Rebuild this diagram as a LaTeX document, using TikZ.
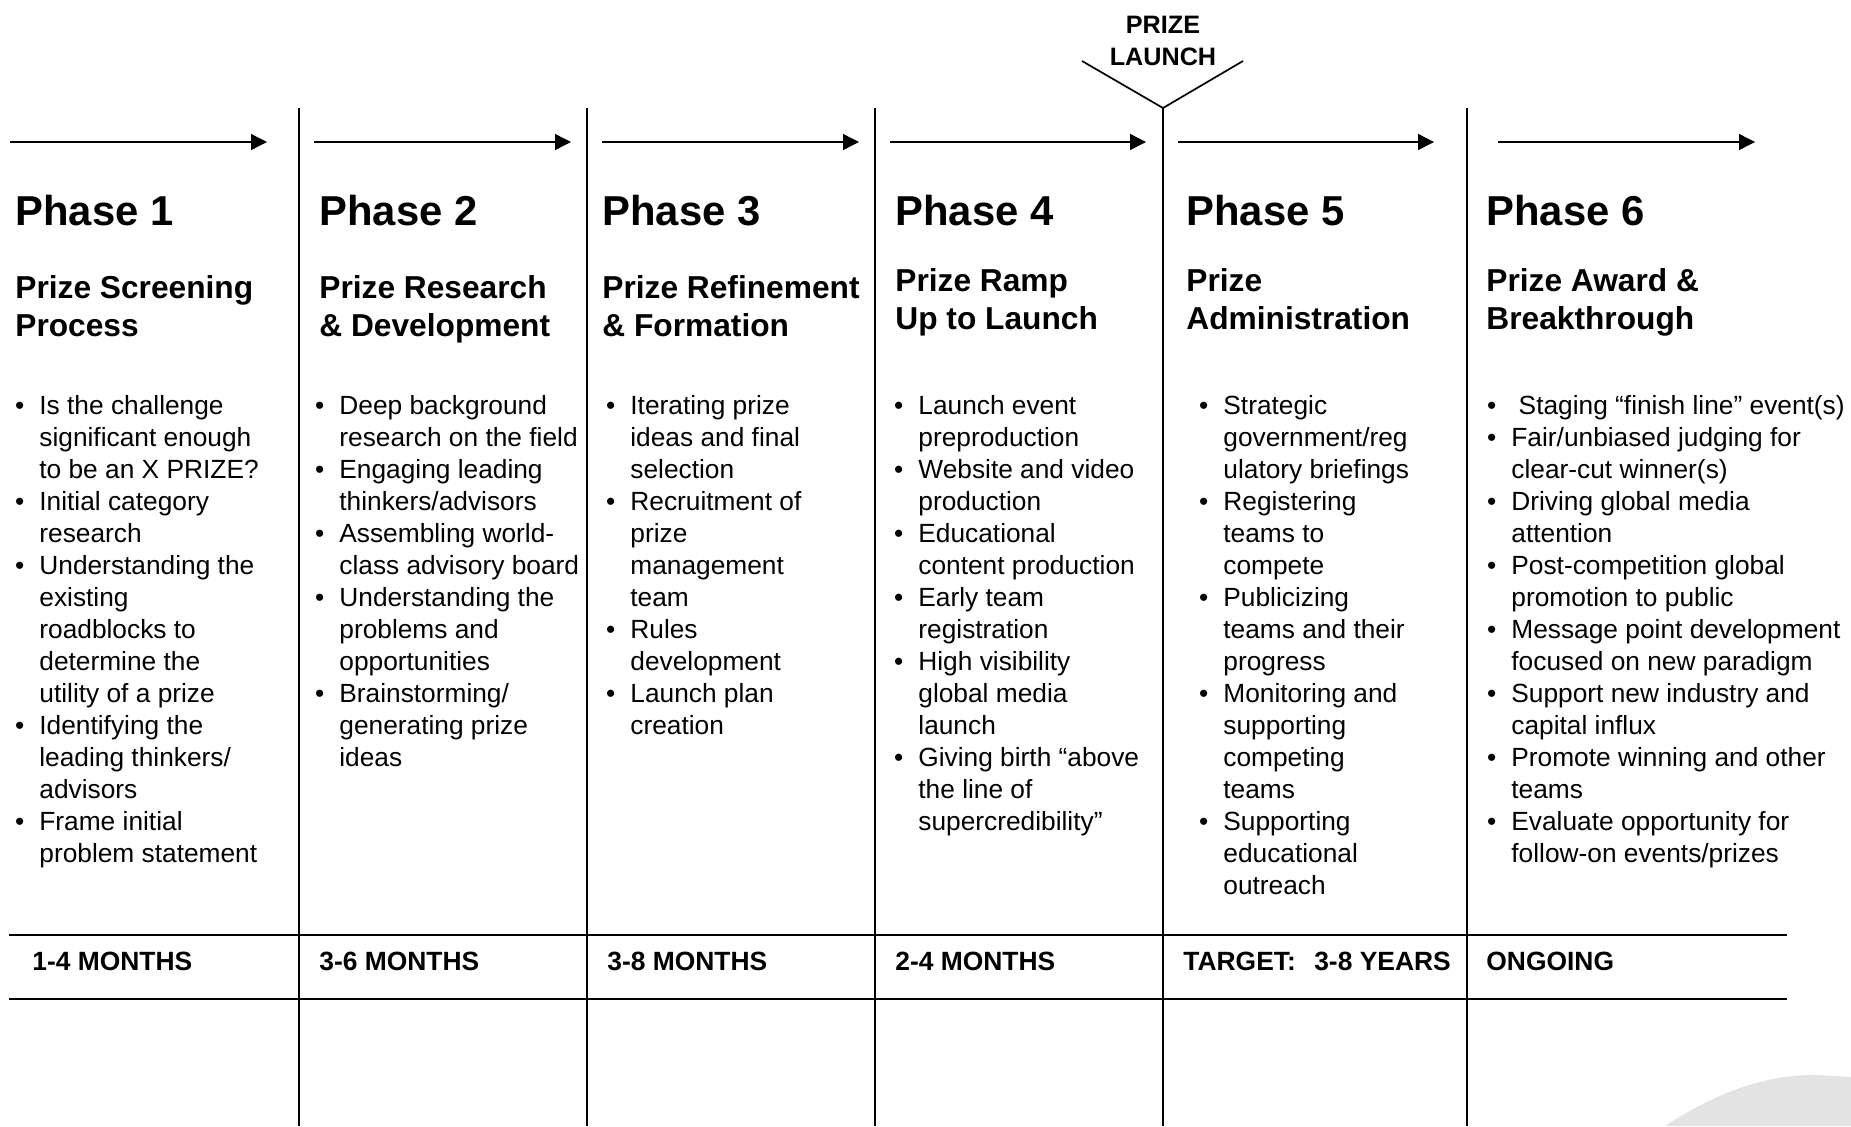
\documentclass[tikz,border=0pt]{standalone}
\usepackage{fontspec}
\setmainfont{Liberation Sans}
\usetikzlibrary{arrows.meta, positioning}
\newcommand{\bul}{\llap{\textbullet\hspace{7.5pt}}}
\tikzset{
    >={Triangle[length=8pt, width=8pt]},
    % Lines
    divider/.style={line width=0.85pt, black},
    band/.style={line width=1.4pt, black},
    flow/.style={->, line width=0.65pt},
    % Text (multi-line nodes sit on the baseline of their last line)
    phase/.style={anchor=base west, inner sep=0pt, font=\fontsize{20.9}{24}\selectfont\bfseries},
    subhead/.style={anchor=base west, inner sep=0pt, align=left, font=\fontsize{15.85}{18.9}\selectfont\bfseries},
    tasks/.style={anchor=base west, inner sep=0pt, align=left, font=\fontsize{13.15}{16}\selectfont},
    duration/.style={anchor=base west, inner sep=0pt, font=\fontsize{13.2}{16}\selectfont\bfseries},
    launch/.style={anchor=base, inner sep=0pt, align=center, font=\fontsize{12.6}{16}\selectfont\bfseries}
}

\begin{document}
\begin{tikzpicture}[x=0.5pt, y=-0.5pt]
\useasboundingbox (0,0) rectangle (1851,1126);

% logo swoosh in the corner
\fill[gray!22] (1665,1126) .. controls (1720,1090) and (1770,1074) .. (1818,1075) -- (1851,1077) -- (1851,1126) -- cycle;

% column dividers and time band
\draw[divider] (299,108) -- (299,1126);
\draw[divider] (587,108) -- (587,1126);
\draw[divider] (875,108) -- (875,1126);
\draw[divider] (1163,108) -- (1163,1126);
\draw[divider] (1467,108) -- (1467,1126);
\draw[band] (9,935) -- (1787,935);
\draw[band] (9,999) -- (1787,999);

% launch marker
\node[launch] (launch) at (1163,65) {PRIZE\\LAUNCH};
\draw[divider] (1082,61) -- (1163,108) -- (1243,61);

% arrows
\draw[flow] (10,142) -- (267,142);
\draw[flow] (314,142) -- (571,142);
\draw[flow] (602,142) -- (859,142);
\draw[flow] (890,142) -- (1146,142);
\draw[flow] (1178,142) -- (1434,142);
\draw[flow] (1498,142) -- (1755,142);

% headings
\node[phase] (p1) at (15,225) {Phase 1};
\node[phase] (p2) at (319,225) {Phase 2};
\node[phase] (p3) at (602,225) {Phase 3};
\node[phase] (p4) at (895,225) {Phase 4};
\node[phase] (p5) at (1186,225) {Phase 5};
\node[phase] (p6) at (1486,225) {Phase 6};

\node[subhead] (s1) at (15,336) {Prize Screening\\Process};
\node[subhead] (s2) at (319,336) {Prize Research\\\& Development};
\node[subhead] (s3) at (602,336) {Prize Refinement\\\& Formation};
\node[subhead] (s4) at (895,329) {Prize Ramp\\Up to Launch};
\node[subhead] (s5) at (1186,329) {Prize\\Administration};
\node[subhead] (s6) at (1486,329) {Prize Award \&\\Breakthrough};

% task lists, first line at 414, 32 per line
\node[tasks] (t1) at (39,414+14*32) {\bul Is the challenge\\significant enough\\to be an X PRIZE?\\\bul Initial category\\research\\\bul Understanding the\\existing\\roadblocks to\\determine the\\utility of a prize\\\bul Identifying the\\leading thinkers/\\advisors\\\bul Frame initial\\problem statement};
\node[tasks] (t2) at (339,414+11*32) {\bul Deep background\\research on the field\\\bul Engaging leading\\thinkers/advisors\\\bul Assembling world-\\class advisory board\\\bul Understanding the\\problems and\\opportunities\\\bul Brainstorming/\\generating prize\\ideas};
\node[tasks] (t3) at (630,414+10*32) {\bul Iterating prize\\ideas and final\\selection\\\bul Recruitment of\\prize\\management\\team\\\bul Rules\\development\\\bul Launch plan\\creation};
\node[tasks] (t4) at (918,414+13*32) {\bul Launch event\\preproduction\\\bul Website and video\\production\\\bul Educational\\content production\\\bul Early team\\registration\\\bul High visibility\\global media\\launch\\\bul Giving birth “above\\the line of\\supercredibility”};
\node[tasks] (t5) at (1223,414+15*32) {\bul Strategic\\government/reg\\ulatory briefings\\\bul Registering\\teams to\\compete\\\bul Publicizing\\teams and their\\progress\\\bul Monitoring and\\supporting\\competing\\teams\\\bul Supporting\\educational\\outreach};
\node[tasks] (t6) at (1511,414+14*32) {\bul\ Staging “finish line” event(s)\\\bul Fair/unbiased judging for\\clear-cut winner(s)\\\bul Driving global media\\attention\\\bul Post-competition global\\promotion to public\\\bul Message point development\\focused on new paradigm\\\bul Support new industry and\\capital influx\\\bul Promote winning and other\\teams\\\bul Evaluate opportunity for\\follow-on events/prizes};

% durations
\node[duration] (d1) at (32,970) {1-4 MONTHS};
\node[duration] (d2) at (319,970) {3-6 MONTHS};
\node[duration] (d3) at (607,970) {3-8 MONTHS};
\node[duration] (d4) at (895,970) {2-4 MONTHS};
\node[duration] (d5) at (1183,970) {TARGET:\hspace{0.7em}3-8 YEARS};
\node[duration] (d6) at (1486,970) {ONGOING};

\end{tikzpicture}
\end{document}
